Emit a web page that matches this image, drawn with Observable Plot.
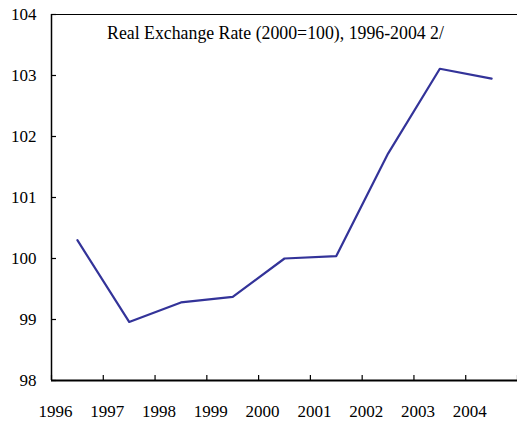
<!DOCTYPE html>
<html>
<head>
<meta charset="utf-8">
<script src="https://cdn.jsdelivr.net/npm/d3@7"></script>
<script src="https://cdn.jsdelivr.net/npm/@observablehq/plot@0.6"></script>
<style>
  html, body { margin: 0; padding: 0; background: #fff; }
</style>
</head>
<body>
<div id="chart"></div>
<script>
const years = [1996, 1997, 1998, 1999, 2000, 2001, 2002, 2003, 2004];
const rer = [100.30, 98.96, 99.28, 99.37, 100.00, 100.04, 101.72, 103.11, 102.95];
const yTicks = [98, 99, 100, 101, 102, 103, 104];
const xLabels = ["1996", "1997", "1998", "1999", "2000", "2001", "2002", "2003", "2004"];
const title = "Real Exchange Rate (2000=100), 1996-2004 2/";

const data = years.map((y, i) => ({year: y, value: rer[i]}));
// band boundaries (Excel category axis: ticks between categories)
const bounds = years.map(y => y - 0.5).concat([years[years.length - 1] + 0.5]);
const labelPos = years.map(y => y - 0.5);

const font = "'Liberation Serif', 'Times New Roman', serif";

const chart = Plot.plot({
  width: 517,
  height: 424,
  marginLeft: 51,
  marginRight: 0,
  marginTop: 14,
  marginBottom: 44,
  style: {fontFamily: font, fontSize: "17px", color: "#000", background: "#fff"},
  x: {type: "linear", domain: [bounds[0], bounds[bounds.length - 1]]},
  y: {domain: [98, 104]},
  marks: [
    // y tick labels
    Plot.axisY({ticks: yTicks, tickSize: 0, tickPadding: 15, tickFormat: d => String(d), fontSize: 17, label: null}),
    // y tick marks, pointing inward
    Plot.axisY({ticks: yTicks, tickSize: 5, dx: 5, tickFormat: () => "", stroke: "#000", strokeWidth: 1.2, label: null}),
    // x tick marks, pointing inward (up)
    Plot.axisX({ticks: bounds, tickSize: 5, dy: -5, tickFormat: () => "", stroke: "#000", strokeWidth: 1.2, label: null}),
    Plot.text(xLabels, {x: labelPos, y: () => 98, dx: 4, dy: 31, fontSize: 17, fill: "#000", lineAnchor: "middle", textAnchor: "middle"}),
    Plot.ruleX([bounds[0]], {stroke: "#000", strokeWidth: 1.5}),
    Plot.ruleY([98], {stroke: "#000", strokeWidth: 2}),
    Plot.ruleY([104], {stroke: "#000", strokeWidth: 1.2}),
    Plot.text([title], {frameAnchor: "top", dx: -9, dy: 19, lineAnchor: "middle", fontSize: 17.8, fill: "#000"}),
    Plot.line(data, {x: "year", y: "value", stroke: "#333399", strokeWidth: 2.2})
  ]
});
document.getElementById("chart").appendChild(chart);
</script>
</body>
</html>
